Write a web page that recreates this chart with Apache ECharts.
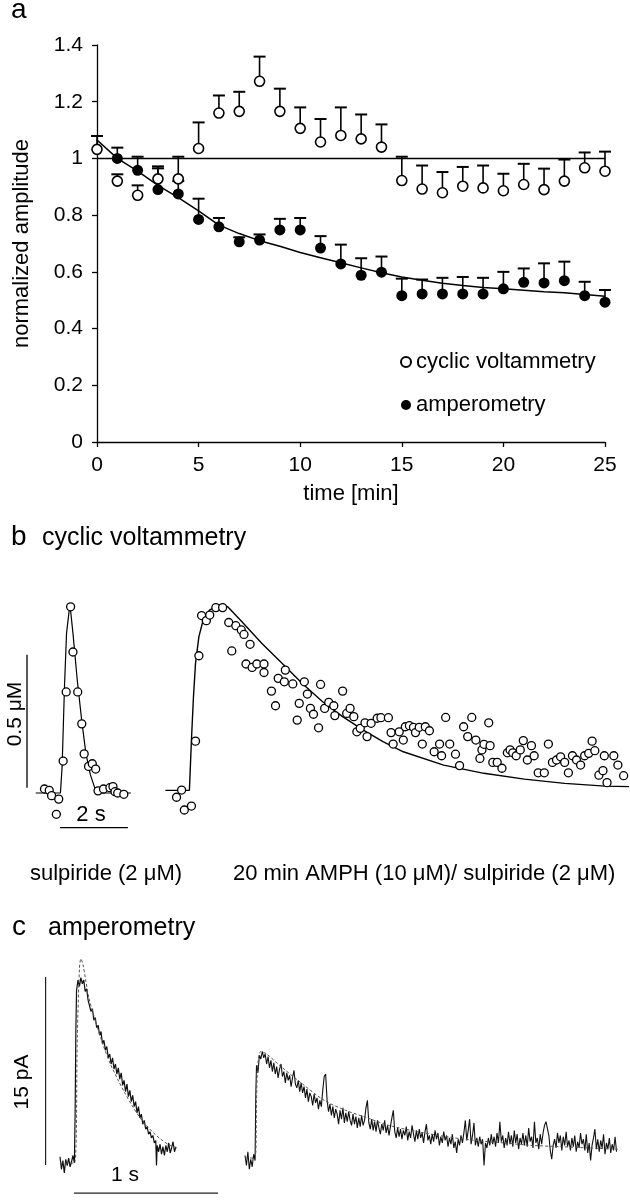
<!DOCTYPE html>
<html><head><meta charset="utf-8">
<script src="https://cdn.jsdelivr.net/npm/echarts@6/dist/echarts.min.js"></script>
<style>html,body{margin:0;padding:0;background:#fff}#c{width:630px;height:1200px}</style>
</head><body><div id="c"></div>
<script>
const FONT = '"Liberation Sans", Arial, Helvetica, sans-serif';

// ---------- Panel a : normalized amplitude vs time ----------
const minutes = [0,1,2,3,4,5,6,7,8,9,10,11,12,13,14,15,16,17,18,19,20,21,22,23,24,25];
const cvMean   = [1.032,0.92,0.87,0.928,0.928,1.035,1.16,1.166,1.272,1.166,1.106,1.058,1.081,1.069,1.04,0.922,0.892,0.879,0.902,0.896,0.886,0.908,0.89,0.92,0.967,0.955];
const cvErrTop = [1.079,0.944,0.905,0.965,1.006,1.127,1.222,1.235,1.359,1.246,1.18,1.139,1.18,1.155,1.12,1.006,0.975,0.952,0.97,0.975,0.946,0.981,0.964,0.996,1.021,1.024];
const ampMinutes = [1,2,3,4,5,6,7,8,9,10,11,12,13,14,15,16,17,18,19,20,21,22,23,24,25];
const ampMean   = [1.0,0.958,0.89,0.875,0.785,0.759,0.706,0.712,0.748,0.748,0.684,0.628,0.588,0.599,0.516,0.522,0.522,0.522,0.522,0.54,0.563,0.561,0.569,0.516,0.493];
const ampErrTop = [1.038,1.006,0.972,0.92,0.858,0.79,0.722,0.732,0.787,0.79,0.726,0.696,0.648,0.654,0.576,0.573,0.579,0.582,0.579,0.6,0.612,0.63,0.636,0.565,0.536];
const ampFit = [1.065,1.0,0.955,0.905,0.862,0.815,0.765,0.735,0.71,0.69,0.668,0.65,0.632,0.614,0.597,0.582,0.57,0.56,0.552,0.545,0.54,0.535,0.53,0.526,0.52,0.514];
const controlLevel = 1;
const aXTicks = {min:0, max:25, interval:5};
const aYTicks = {min:0, max:1.4, interval:0.2};

// ---------- Panel b : cyclic voltammetry (time s, concentration µM) ----------
const cvSulpPoints = [[0.28,0.015],[0.42,0.01],[0.49,-0.01],[0.70,-0.023],[0.63,-0.08],[0.83,0.12],[0.92,0.38],[1.05,0.70],[1.12,0.53],[1.26,0.38],[1.38,0.26],[1.45,0.147],[1.58,0.10],[1.69,0.11],[1.79,0.09],[1.86,0.008],[2.02,0.015],[2.21,0.02],[2.30,0.024],[2.36,0.005],[2.44,0.0],[2.62,-0.005]];
const cvSulpFit = [[0.02,0],[0.75,0],[0.8,0.1],[0.87,0.4],[0.93,0.6],[1.03,0.71],[1.12,0.6],[1.25,0.42],[1.38,0.27],[1.5,0.15],[1.63,0.07],[1.76,0.02],[1.85,0],[2.83,0]];
const cvAmphPoints = [[0.34,-0.016],[0.49,0.011],[0.57,-0.064],[0.78,-0.049],[0.90,0.195],[1.00,0.516],[1.08,0.667],[1.22,0.648],[1.32,0.669],[1.50,0.697],[1.70,0.697],[1.88,0.641],[2.09,0.629],[2.25,0.613],[2.33,0.596],[2.51,0.559],[1.97,0.534],[2.39,0.485],[2.57,0.472],[2.71,0.485],[2.92,0.485],[2.92,0.453],[3.34,0.431],[3.52,0.418],[3.55,0.462],[3.77,0.410],[4.11,0.418],[3.14,0.383],[3.26,0.328],[3.96,0.337],[4.20,0.372],[4.29,0.318],[4.38,0.296],[3.90,0.274],[4.53,0.245],[4.59,0.408],[4.71,0.318],[4.83,0.341],[4.98,0.328],[5.01,0.291],[5.24,0.383],[5.36,0.299],[5.46,0.318],[5.57,0.287],[5.66,0.230],[5.76,0.243],[5.90,0.264],[5.96,0.212],[6.08,0.262],[6.26,0.281],[6.37,0.283],[6.59,0.283],[6.67,0.227],[6.73,0.184],[6.91,0.230],[7.03,0.199],[7.09,0.249],[7.21,0.253],[7.33,0.247],[7.39,0.227],[7.50,0.247],[7.59,0.184],[7.68,0.249],[7.80,0.234],[7.94,0.155],[8.10,0.184],[8.16,0.140],[8.28,0.284],[8.40,0.184],[8.57,0.146],[8.69,0.103],[8.81,0.249],[8.93,0.212],[9.05,0.284],[9.17,0.199],[9.29,0.130],[9.35,0.162],[9.41,0.183],[9.55,0.264],[9.59,0.178],[9.67,0.115],[9.80,0.115],[9.94,0.093],[10.10,0.151],[10.18,0.162],[10.26,0.151],[10.36,0.140],[10.48,0.162],[10.57,0.197],[10.69,0.124],[10.81,0.178],[10.89,0.140],[11.01,0.076],[11.19,0.076],[11.31,0.184],[11.43,0.115],[11.55,0.124],[11.67,0.136],[11.79,0.115],[11.90,0.076],[12.02,0.140],[12.14,0.124],[12.26,0.105],[12.38,0.140],[12.50,0.149],[12.60,0.195],[12.68,0.159],[12.80,0.067],[12.92,0.084],[13.04,0.039],[12.96,0.140],[13.24,0.140],[13.36,0.105],[13.53,0.065]];
const cvAmphFit = [[0.01,0.01],[0.72,0.01],[0.78,0.199],[0.84,0.362],[0.90,0.487],[1.00,0.588],[1.14,0.657],[1.32,0.688],[1.62,0.707],[1.85,0.70],[2.27,0.644],[2.86,0.562],[3.46,0.487],[4.05,0.412],[4.65,0.343],[5.24,0.287],[5.84,0.237],[6.43,0.193],[7.03,0.155],[8.22,0.105],[9.41,0.074],[10.60,0.052],[11.79,0.036],[12.98,0.026],[13.69,0.024]];
const bBarConc = 0.5;   // µM
const bBarTime = 2;     // s

// ---------- Panel c : amperometry (time s, current pA) ----------
const ampSulpTrace = [[0.00,0.5],[0.01,-0.5],[0.02,0.2],[0.03,-0.8],[0.04,0.3],[0.05,-0.2],[0.06,0.4],[0.07,-0.3],[0.08,0.1],[0.09,0.6],[0.10,0.0],[0.105,4.0],[0.11,10.5],[0.115,13.8],[0.125,14.6],[0.135,14.1],[0.145,14.8],[0.155,14.3],[0.165,14.6],[0.175,13.7],[0.185,13.9],[0.195,13.0],[0.205,12.9],[0.215,12.1],[0.225,12.3],[0.235,11.4],[0.245,11.6],[0.255,10.8],[0.265,11.0],[0.275,10.2],[0.285,10.5],[0.295,9.5],[0.305,9.8],[0.315,9.0],[0.325,9.3],[0.335,8.4],[0.345,8.7],[0.355,7.9],[0.365,8.4],[0.375,7.5],[0.385,7.9],[0.395,7.1],[0.405,7.6],[0.415,6.7],[0.425,7.2],[0.435,6.2],[0.445,6.6],[0.455,5.7],[0.465,6.3],[0.475,5.3],[0.485,5.8],[0.495,4.9],[0.505,5.4],[0.515,4.5],[0.525,4.9],[0.535,4.0],[0.545,4.5],[0.555,3.6],[0.565,3.9],[0.575,3.1],[0.585,3.4],[0.595,2.7],[0.605,2.9],[0.615,2.3],[0.625,2.5],[0.635,2.0],[0.645,2.2],[0.655,1.6],[0.665,1.8],[0.67,-0.2],[0.675,1.4],[0.685,0.9],[0.695,1.5],[0.705,0.7],[0.715,1.3],[0.725,0.6],[0.735,1.4],[0.745,0.9],[0.755,1.6],[0.765,0.8],[0.775,1.2],[0.785,1.7],[0.795,0.9],[0.805,1.3]];
const ampSulpFit = [[0.0,0],[0.10,0],[0.12,10],[0.135,15.5],[0.145,16.3],[0.16,15.8],[0.18,14.5],[0.2,13.2],[0.25,11.2],[0.3,9.4],[0.35,7.9],[0.4,6.7],[0.45,5.6],[0.5,4.6],[0.55,3.7],[0.6,3.0],[0.65,2.4],[0.7,1.9],[0.75,1.5],[0.81,1.2]];
const ampAmphTrace = [[0.00,0.6],[0.01,-0.2],[0.02,0.9],[0.03,-0.5],[0.04,0.3],[0.05,-0.3],[0.06,0.7],[0.07,0.2],[0.075,5.5],[0.08,7.8],[0.09,7.2],[0.10,8.6],[0.11,8.3],[0.12,8.9],[0.13,8.4],[0.14,8.7],[0.15,7.9],[0.16,8.5],[0.17,7.6],[0.18,8.2],[0.19,7.3],[0.20,8.0],[0.21,7.1],[0.22,7.7],[0.23,6.8],[0.24,7.5],[0.25,7.9],[0.26,6.9],[0.27,7.3],[0.28,6.4],[0.29,7.2],[0.30,6.6],[0.31,7.0],[0.32,6.1],[0.33,6.8],[0.34,7.4],[0.35,6.3],[0.36,6.0],[0.37,6.6],[0.38,5.7],[0.39,6.4],[0.40,5.6],[0.41,6.1],[0.42,5.2],[0.43,5.9],[0.44,4.9],[0.45,5.6],[0.46,5.3],[0.47,4.6],[0.48,5.5],[0.49,4.8],[0.50,5.2],[0.51,4.3],[0.52,5.0],[0.53,4.5],[0.54,5.8],[0.55,6.9],[0.56,7.1],[0.57,5.0],[0.58,4.1],[0.59,4.7],[0.60,3.8],[0.61,4.5],[0.62,3.6],[0.63,4.3],[0.64,3.9],[0.65,3.1],[0.66,4.2],[0.67,3.5],[0.68,4.4],[0.69,3.2],[0.70,4.0],[0.71,3.3],[0.72,4.1],[0.73,3.4],[0.74,3.0],[0.75,3.9],[0.76,3.1],[0.77,3.7],[0.78,2.8],[0.79,3.6],[0.80,2.9],[0.81,3.8],[0.82,3.0],[0.83,3.4],[0.84,4.4],[0.85,5.0],[0.86,3.2],[0.87,2.7],[0.88,3.5],[0.89,2.6],[0.90,3.3],[0.91,2.5],[0.92,3.4],[0.93,2.8],[0.94,2.3],[0.95,3.1],[0.96,2.6],[0.97,3.4],[0.98,2.4],[0.99,3.0],[1.00,2.2],[1.01,2.9],[1.02,3.6],[1.03,4.2],[1.04,2.5],[1.05,2.0],[1.06,2.8],[1.07,2.1],[1.08,2.7],[1.09,1.9],[1.10,2.6],[1.11,2.2],[1.12,2.9],[1.13,1.8],[1.14,2.5],[1.15,2.0],[1.16,3.0],[1.17,2.3],[1.18,1.7],[1.19,2.6],[1.20,1.9],[1.21,2.7],[1.22,2.0],[1.23,2.4],[1.24,1.6],[1.25,2.5],[1.26,3.1],[1.27,1.8],[1.28,2.2],[1.29,1.5],[1.30,2.3],[1.31,1.7],[1.32,2.6],[1.33,1.9],[1.34,2.4],[1.35,1.4],[1.36,2.1],[1.37,1.6],[1.38,2.5],[1.39,1.8],[1.40,2.2],[1.41,1.3],[1.42,2.0],[1.43,1.5],[1.44,2.3],[1.45,1.2],[1.46,1.7],[1.47,0.8],[1.48,1.9],[1.49,1.4],[1.50,2.2],[1.51,1.6],[1.52,2.4],[1.53,3.4],[1.54,1.8],[1.55,2.6],[1.56,3.5],[1.57,1.5],[1.58,2.2],[1.59,3.2],[1.60,1.4],[1.61,2.0],[1.62,1.3],[1.63,2.1],[1.64,1.5],[1.65,1.9],[1.66,-0.2],[1.67,1.6],[1.68,1.2],[1.69,2.0],[1.70,1.4],[1.71,2.3],[1.72,1.5],[1.73,2.1],[1.74,1.3],[1.75,2.4],[1.76,1.6],[1.77,3.3],[1.78,1.7],[1.79,2.2],[1.80,1.2],[1.81,2.0],[1.82,1.4],[1.83,2.5],[1.84,1.5],[1.85,2.2],[1.86,1.3],[1.87,2.6],[1.88,1.6],[1.89,2.3],[1.90,1.1],[1.91,2.0],[1.92,1.5],[1.93,2.4],[1.94,1.4],[1.95,2.2],[1.96,1.3],[1.97,2.8],[1.98,1.7],[1.99,2.1],[2.00,1.2],[2.01,3.3],[2.02,1.6],[2.03,2.0],[2.04,1.1],[2.05,2.3],[2.06,1.5],[2.07,2.4],[2.08,3.0],[2.09,3.3],[2.10,3.2],[2.11,2.2],[2.12,1.0],[2.13,0.3],[2.14,1.4],[2.15,1.9],[2.16,1.2],[2.17,2.4],[2.18,1.6],[2.19,2.2],[2.20,1.0],[2.21,2.1],[2.22,1.4],[2.23,2.5],[2.24,1.3],[2.25,1.8],[2.26,1.0],[2.27,2.0],[2.28,1.3],[2.29,2.2],[2.30,0.9],[2.31,1.7],[2.32,1.2],[2.33,2.4],[2.34,1.5],[2.35,1.9],[2.36,1.0],[2.37,2.3],[2.38,0.8],[2.39,1.6],[2.40,0.2],[2.41,1.4],[2.42,2.0],[2.43,2.7],[2.44,1.1],[2.45,1.9],[2.46,0.9],[2.47,1.8],[2.48,1.2],[2.49,2.3],[2.50,0.7],[2.51,1.6],[2.52,1.1],[2.53,2.0],[2.54,0.8],[2.55,1.5],[2.56,1.0],[2.57,2.1],[2.58,0.9]];
const ampAmphFit = [[0,0.4],[0.07,0.4],[0.08,5],[0.09,8],[0.11,8.9],[0.15,8.7],[0.25,7.7],[0.4,6.3],[0.55,5.0],[0.7,4.2],[0.85,3.6],[1.0,3.0],[1.2,2.5],[1.4,2.1],[1.6,1.8],[1.8,1.6],[2.0,1.4],[2.2,1.3],[2.4,1.2],[2.59,1.1]];
const cBarCurrent = 15; // pA
const cBarTime = 1;     // s

// ---------- build ----------
const cvErr = minutes.map((m,i)=>[m, cvMean[i], cvErrTop[i]]);
const ampErr = ampMinutes.map((m,i)=>[m, ampMean[i], ampErrTop[i]]);
function errRender(params, api){
  const p = api.coord([api.value(0), api.value(1)]);
  const q = api.coord([api.value(0), api.value(2)]);
  return {type:'group', children:[
    {type:'line', shape:{x1:p[0],y1:p[1],x2:q[0],y2:q[1]}, style:{stroke:'#000', lineWidth:1.6}},
    {type:'line', shape:{x1:q[0]-6,y1:q[1],x2:q[0]+6,y2:q[1]}, style:{stroke:'#000', lineWidth:2}}
  ]};
}
const black = '#000';
const hiddenAxis = (grid, min, max) => ({type:'value', gridIndex:grid, min, max, show:false});
const txt = (text, x, y, size, align, rot) => ({type:'text', x, y, rotation: rot || 0, silent:true,
  style:{text, fill:black, font: size+'px '+FONT, textAlign: align || 'left', textVerticalAlign:'middle'}});

const bVX = -0.236, bVY0 = 0.02, bHY = -0.13, bHX0 = 0.74;
const cVX = -0.10, cVY0 = -0.16, cHY = -2.4, cHX0 = 0.097;

const option = {
  animation:false,
  backgroundColor:'#fff',
  textStyle:{fontFamily:FONT, color:black},
  grid:[
    {left:97, right:25, top:45, height:397, outerBoundsMode:'none'},
    {left:18.05, top:593.5, width:118.65, height:239.4, outerBoundsMode:'none'},
    {left:165, top:593.5, width:464.4, height:239.4, outerBoundsMode:'none'},
    {left:38.4, top:952.5, width:187.2, height:243.1, outerBoundsMode:'none'},
    {left:245, top:952.5, width:374.4, height:243.1, outerBoundsMode:'none'}
  ],
  xAxis:[
    {type:'value', gridIndex:0, min:aXTicks.min, max:aXTicks.max, interval:aXTicks.interval,
     name:'time [min]', nameLocation:'middle', nameGap:41,
     nameTextStyle:{fontSize:22, color:black, fontFamily:FONT},
     axisLine:{lineStyle:{color:black, width:1.3}}, axisTick:{lineStyle:{color:black, width:1.3}, length:5},
     axisLabel:{fontSize:21, color:black, margin:13, fontFamily:FONT}, splitLine:{show:false}},
    hiddenAxis(1,-0.5,3.0), hiddenAxis(2,0,13.7), hiddenAxis(3,-0.15,1.15), hiddenAxis(4,0,2.6)
  ],
  yAxis:[
    {type:'value', gridIndex:0, min:aYTicks.min, max:aYTicks.max, interval:aYTicks.interval,
     name:'normalized amplitude', nameLocation:'middle', nameGap:64,
     nameTextStyle:{fontSize:22, color:black, fontFamily:FONT},
     axisLine:{show:true, lineStyle:{color:black, width:1.3}}, axisTick:{show:true, lineStyle:{color:black, width:1.3}, length:5},
     axisLabel:{fontSize:21, color:black, margin:14, fontFamily:FONT}, splitLine:{show:false}},
    hiddenAxis(1,-0.15,0.75), hiddenAxis(2,-0.15,0.75), hiddenAxis(3,-2.6,16.8), hiddenAxis(4,-2.6,16.8)
  ],
  legend:{data:['cyclic voltammetry','amperometry'], orient:'vertical', left:395, top:346, itemGap:21,
    itemWidth:10, itemHeight:10, selectedMode:false,
    textStyle:{fontSize:22, color:black, fontFamily:FONT}},
  series:[
    // panel a
    {type:'line', xAxisIndex:0, yAxisIndex:0, data:[[aXTicks.min,controlLevel],[aXTicks.max,controlLevel]], symbol:'none',
     lineStyle:{color:black, width:1.5}, z:1, silent:true},
    {type:'line', name:'fit', xAxisIndex:0, yAxisIndex:0, data:minutes.map((m,i)=>[m, ampFit[i]]), symbol:'none',
     lineStyle:{color:black, width:1.5}, z:1, silent:true},
    {type:'custom', xAxisIndex:0, yAxisIndex:0, renderItem:errRender, data:cvErr, encode:{x:0, y:[1,2]}, z:2, silent:true},
    {type:'custom', xAxisIndex:0, yAxisIndex:0, renderItem:errRender, data:ampErr, encode:{x:0, y:[1,2]}, z:2, silent:true},
    {type:'scatter', name:'amperometry', xAxisIndex:0, yAxisIndex:0, data:ampMinutes.map((m,i)=>[m, ampMean[i]]),
     symbol:'circle', symbolSize:11, itemStyle:{color:black, opacity:1}, z:3},
    {type:'scatter', name:'cyclic voltammetry', xAxisIndex:0, yAxisIndex:0, data:minutes.map((m,i)=>[m, cvMean[i]]),
     symbol:'circle', symbolSize:10, itemStyle:{color:'#fff', borderColor:black, borderWidth:1.6, opacity:1}, z:4},
    // panel b left
    {type:'line', xAxisIndex:1, yAxisIndex:1, data:cvSulpFit, symbol:'none', lineStyle:{color:black, width:1.2}, z:1},
    {type:'scatter', xAxisIndex:1, yAxisIndex:1, data:cvSulpPoints, symbol:'circle', symbolSize:8,
     itemStyle:{color:'#fff', borderColor:black, borderWidth:1.3, opacity:1}, z:3},
    {type:'line', xAxisIndex:1, yAxisIndex:1, data:[[bVX,bVY0],[bVX,bVY0+bBarConc]], symbol:'none', lineStyle:{color:black, width:1.3}},
    {type:'line', xAxisIndex:1, yAxisIndex:1, data:[[bHX0,bHY],[bHX0+bBarTime,bHY]], symbol:'none', lineStyle:{color:black, width:1.3}},
    // panel b right
    {type:'line', xAxisIndex:2, yAxisIndex:2, data:cvAmphFit, symbol:'none', lineStyle:{color:black, width:1.4}, z:1},
    {type:'scatter', xAxisIndex:2, yAxisIndex:2, data:cvAmphPoints, symbol:'circle', symbolSize:8,
     itemStyle:{color:'#fff', borderColor:black, borderWidth:1.3, opacity:1}, z:3},
    // panel c left
    {type:'line', xAxisIndex:3, yAxisIndex:3, data:ampSulpFit, symbol:'none', smooth:0.3,
     lineStyle:{color:'#555', width:1, type:[3,2]}, z:2},
    {type:'line', xAxisIndex:3, yAxisIndex:3, data:ampSulpTrace, symbol:'none', lineStyle:{color:'#111', width:1.2}, z:1},
    {type:'line', xAxisIndex:3, yAxisIndex:3, data:[[cVX,cVY0],[cVX,cVY0+cBarCurrent]], symbol:'none', lineStyle:{color:'#222', width:1.2}},
    {type:'line', xAxisIndex:3, yAxisIndex:3, data:[[cHX0,cHY],[cHX0+cBarTime,cHY]], symbol:'none', lineStyle:{color:'#222', width:1.2}},
    // panel c right
    {type:'line', xAxisIndex:4, yAxisIndex:4, data:ampAmphFit, symbol:'none', smooth:0.3,
     lineStyle:{color:'#555', width:1, type:[3,2]}, z:2},
    {type:'line', xAxisIndex:4, yAxisIndex:4, data:ampAmphTrace, symbol:'none', lineStyle:{color:'#111', width:1.1}, z:1}
  ],
  graphic:[
    txt('a', 11, 10, 28),
    txt('b', 11, 537, 28),
    txt('cyclic voltammetry', 42, 538, 25),
    txt('0.5 μM', 15, 714, 21, 'center', Math.PI/2),
    txt('2 s', 91, 815, 22, 'center'),
    txt('sulpiride (2 μM)', 30, 874, 22),
    txt('20 min AMPH (10 μM)/ sulpiride (2 μM)', 233, 874, 22),
    txt('c', 12, 927, 28),
    txt('amperometry', 48, 928, 25),
    txt('15 pA', 22, 1082, 21, 'center', Math.PI/2),
    txt('1 s', 125, 1175, 21, 'center')
  ]
};
const chart = echarts.init(document.getElementById('c'), null, {renderer:'canvas'});
chart.setOption(option);
</script></body></html>
